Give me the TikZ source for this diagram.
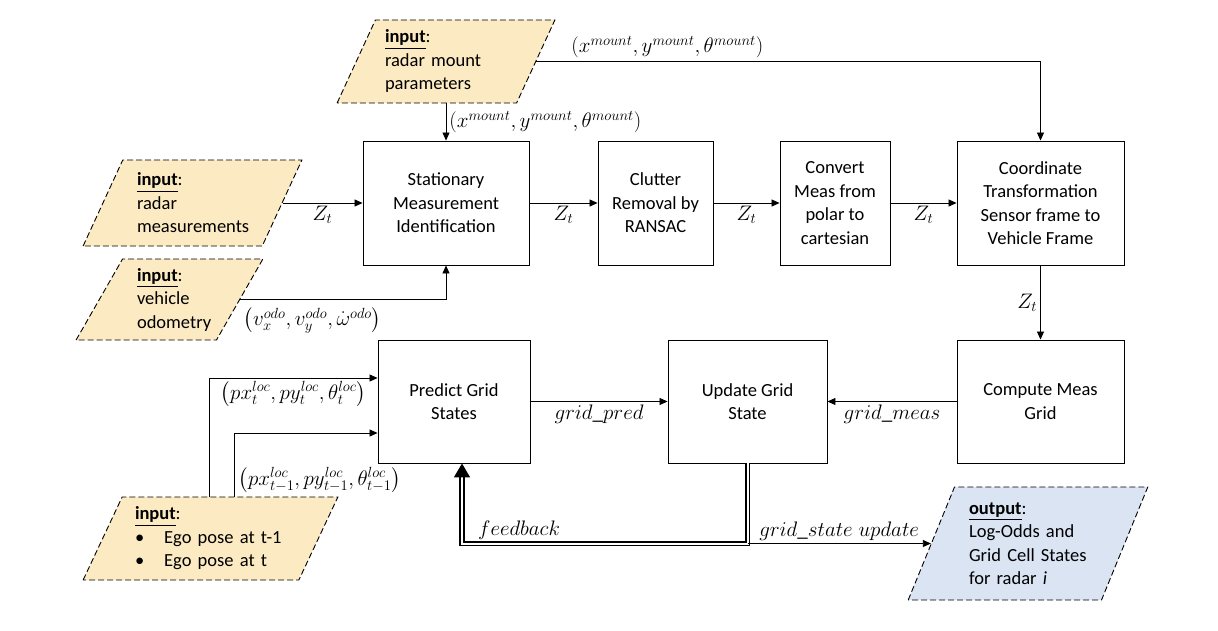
\RequirePackage{fix-cm}
\documentclass[tikz,border=0pt]{standalone}
\usepackage{amsmath}
\usepackage{fontspec}
\setmainfont{Carlito}
\usepackage{xcolor}
\definecolor{InFill}{RGB}{252,234,194}
\definecolor{OutFill}{RGB}{218,228,243}
\usepackage{tikz}
\usetikzlibrary{shapes.geometric}
\usetikzlibrary{arrows.meta}
\newcommand{\BlockFont}{\fontsize{18.5}{23.5}\selectfont}
\newcommand{\LabelFont}{\fontsize{21}{24}\selectfont}
\tikzstyle{Block}=[rectangle,draw=black,line width=0.9pt,align=center,
inner sep=2pt,font=\BlockFont]
\tikzstyle{Data}=[trapezium,trapezium left angle=63,trapezium right angle=117,
trapezium stretches=true,draw=black,dash pattern=on 6pt off 3pt,
line width=0.9pt,fill=InFill,align=left,inner sep=2pt,font=\BlockFont]
\tikzstyle{Arrow}=[draw,line width=0.8pt,-{Triangle[length=8pt,width=7pt]}]
\tikzstyle{Feedback}=[draw,double,double distance=2pt,line width=1.6pt]
\tikzstyle{Label}=[font=\LabelFont,inner sep=3pt]
\newcommand{\InHead}{\underline{\textbf{input}}:}

\begin{document}
\begin{tikzpicture}[x=1pt,y=-1pt]
        \useasboundingbox(0,0)rectangle(1218,631);
        % inputs and output
        \node[Data,minimum width=218pt,minimum height=83pt,text width=122pt]
            (mount)at(446,61.5){\InHead\\radar mount\\parameters};
        \node[Data,minimum width=219pt,minimum height=86pt,text width=111pt]
            (radar)at(192.5,203){\InHead\\radar\\measurements};
        \node[Data,minimum width=187pt,minimum height=81pt,text width=65pt]
            (odo)at(169.5,299.5){\InHead\\vehicle\\odometry};
        \node[Data,minimum width=255pt,minimum height=83pt,text width=151pt]
            (ego)at(210.5,538.5){\InHead\\
            \textbullet\hspace{20pt}Ego pose at t-1\\
            \textbullet\hspace{20pt}Ego pose at t};
        \node[Data,fill=OutFill,trapezium left angle=66,trapezium right angle=114,
            minimum width=240pt,minimum height=113pt,text width=118pt]
            (out)at(1028,543.5){\underline{\textbf{output}}:\\Log-Odds and\\
            Grid Cell States\\for radar \textit{i}};
        % processing blocks
        \node[Block,minimum width=166pt,minimum height=124pt](stat)at(446,203)
            {Stationary\\Measurement\\Identification};
        \node[Block,minimum width=115pt,minimum height=124pt](clut)at(655.5,203)
            {Clutter\\Removal by\\RANSAC};
        \node[Block,minimum width=110pt,minimum height=124pt](conv)at(835,203)
            {Convert\\Meas from\\polar to\\cartesian};
        \node[Block,minimum width=167pt,minimum height=124pt](coord)at(1040.5,203)
            {Coordinate\\Transformation\\Sensor frame to\\Vehicle Frame};
        \node[Block,minimum width=152pt,minimum height=123pt](pred)at(454,401.5)
            {Predict Grid\\States};
        \node[Block,minimum width=159pt,minimum height=123pt](upd)at(747.5,401.5)
            {Update Grid\\State};
        \node[Block,minimum width=167pt,minimum height=123pt](comp)at(1040.5,401.5)
            {Compute Meas\\Grid};
        % connectors
        \draw[Arrow](stat.north|-mount.bottom side)--node[Label,right,midway]
            {$(x^{mount},y^{mount},\theta^{mount})$}(stat.north);
        \draw[Arrow](mount.right side)-|node[Label,above,pos=0.13]
            {$(x^{mount},y^{mount},\theta^{mount})$}(coord.north);
        \draw[Arrow](radar.right side)--node[Label,below,midway]{$Z_t$}(stat.west);
        \draw[Arrow](odo.right side)node[Label,below right,yshift=-5pt]
            {$\bigl(v_x^{odo},v_y^{odo},\dot{\omega}^{odo}\bigr)$}-|(stat.south);
        \draw[Arrow](stat.east)--node[Label,below,midway]{$Z_t$}(clut.west);
        \draw[Arrow](clut.east)--node[Label,below,midway]{$Z_t$}(conv.west);
        \draw[Arrow](conv.east)--node[Label,below,midway]{$Z_t$}(coord.west);
        \draw[Arrow](coord.south)--node[Label,left,midway]{$Z_t$}(comp.north);
        \draw[Arrow](comp.west)--node[Label,below,midway]{$grid\_meas$}(upd.east);
        \draw[Arrow](pred.east)--node[Label,below,midway]{$grid\_pred$}(upd.west);
        \draw[Arrow]([xshift=-21pt]ego.top side)|-node[Label,below,pos=0.75]
            {$\bigl(px_t^{loc},py_t^{loc},\theta_t^{loc}\bigr)$}
            ([yshift=23.5pt]pred.west);
        \draw[Arrow]([xshift=4pt]ego.top side)|-node[Label,anchor=north west,
            pos=0.5,xshift=1pt,yshift=-31pt]
            {$\bigl(px_{t-1}^{loc},py_{t-1}^{loc},\theta_{t-1}^{loc}\bigr)$}
            ([yshift=-31.5pt]pred.west);
        \coordinate(fb)at(upd.south|-out.left side);
        \draw[Feedback,-{Triangle[length=14pt,width=16pt]}](upd.south)--(fb)
            -|node[Label,above,pos=0.4]{$feedback$}([xshift=8pt]pred.south);
        \draw[Arrow](fb)--node[Label,above,midway]{$grid\_state\;update$}
            (out.left side);
    \end{tikzpicture}
\end{document}
